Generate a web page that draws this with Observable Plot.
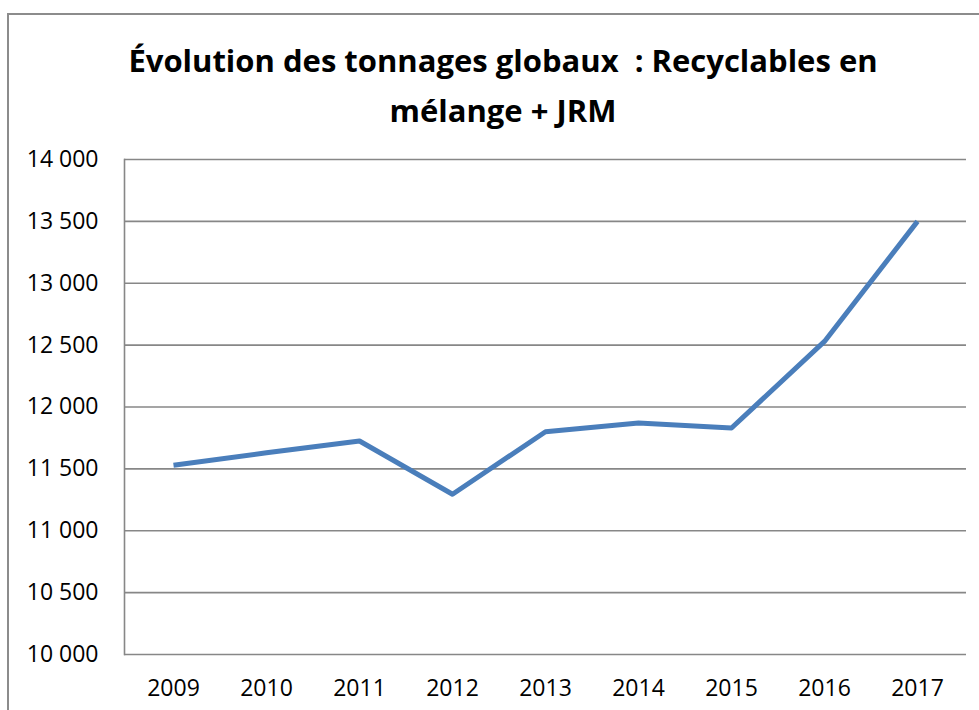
<!DOCTYPE html>
<html>
<head>
<meta charset="utf-8">
<script src="https://cdn.jsdelivr.net/npm/d3@7"></script>
<script src="https://cdn.jsdelivr.net/npm/@observablehq/plot@0.6"></script>
<style>
  html, body { margin: 0; padding: 0; background: #fff; }
  #wrap { position: relative; width: 979px; height: 710px; overflow: hidden; background: #fff; }
  #frame { position: absolute; left: 7px; top: 13px; width: 1100px; height: 800px;
           border-left: 2px solid #8c8c8c; border-top: 2px solid #8c8c8c; }
  #title { position: absolute; left: 8px; width: 990px; top: 35px; text-align: center;
           font-family: "Open Sans", sans-serif; font-weight: bold; font-size: 31px;
           line-height: 50px; color: #000; white-space: nowrap; }
  #chart { position: absolute; left: 0; top: 140px; }
</style>
</head>
<body>
<div id="wrap">
  <div id="frame"></div>
  <div id="title">Évolution des tonnages globaux&nbsp; : Recyclables en<br>mélange + JRM</div>
  <div id="chart"></div>
</div>
<script>
const years = ["2009", "2010", "2011", "2012", "2013", "2014", "2015", "2016", "2017"];
const tonnages = [11530, 11630, 11725, 11295, 11800, 11870, 11830, 12530, 13500];
const yTicks = [10000, 10500, 11000, 11500, 12000, 12500, 13000, 13500, 14000];

const data = years.map((year, i) => ({year, value: tonnages[i]}));
const fmt = d3.formatLocale({decimal: ",", thousands: " ", grouping: [3], currency: ["", " €"]}).format(",");

const plot = Plot.plot({
  width: 979,
  height: 570,
  marginTop: 19,
  marginBottom: 56,
  marginLeft: 124,
  marginRight: 13,
  style: {fontFamily: "Open Sans, sans-serif", fontSize: "23px", color: "#000", background: "transparent", overflow: "visible"},
  x: {type: "point", domain: years, padding: 0.5},
  y: {domain: [10000, 14000]},
  marks: [
    Plot.gridY(yTicks, {stroke: "#878787", strokeOpacity: 1, strokeWidth: 1.6}),
    Plot.frame({anchor: "left", stroke: "#878787", strokeWidth: 1.6}),
    Plot.axisY(yTicks, {tickSize: 0, tickPadding: 26, tickFormat: fmt, fontSize: 23, label: null}),
    Plot.axisX(years, {tickSize: 0, tickPadding: 25, fontSize: 23, label: null}),
    Plot.line(data, {x: "year", y: "value", stroke: "#4a7ebb", strokeWidth: 5, strokeLinejoin: "round", strokeLinecap: "butt"})
  ]
});
document.getElementById("chart").appendChild(plot);
</script>
</body>
</html>
